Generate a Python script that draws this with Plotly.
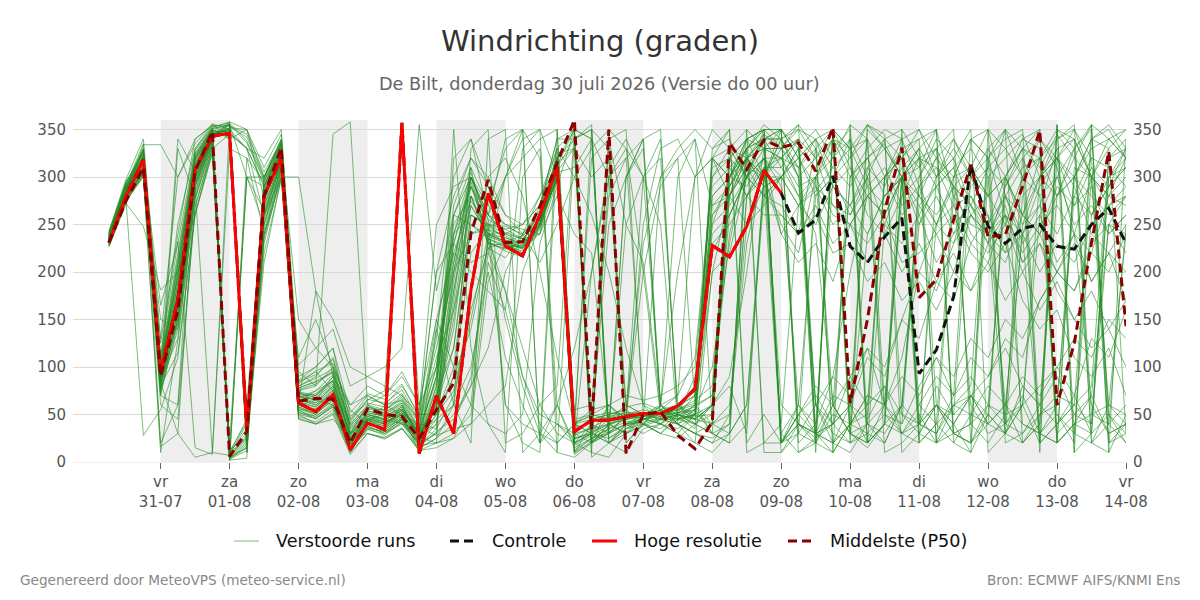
import plotly.graph_objects as go
import pandas as pd

# ---------------- data ----------------
times = pd.date_range("2026-07-30 06:00", periods=60, freq="6h")

hoge_resolutie = [231, 280, 318, 94, 171, 308, 343, 346, 34, 280,
                  320, 62, 53, 71, 13, 41, 34, 357, 9, 70,
                  30, 181, 283, 227, 217, 260, 311, 32, 44, 44,
                  48, 51, 51, 59, 77, 228, 216, 248, 307, 283]

controle = hoge_resolutie[:39] + [283, 241, 255, 301, 227, 210, 237, 257, 93, 118,
                                  174, 313, 248, 230, 246, 250, 227, 224, 250, 267, 230]

p50 = [231, 275, 310, 90, 160, 306, 348, 6, 32, 280,
       331, 64, 67, 66, 20, 56, 50, 48, 25, 55,
       83, 241, 297, 231, 232, 269, 315, 360, 34, 350,
       9, 50, 53, 28, 14, 42, 336, 308, 339, 331,
       336, 306, 352, 62, 150, 265, 331, 173, 192, 255,
       313, 237, 239, 290, 349, 60, 125, 231, 327, 143]

# ensemble members, part 1: 30-07 06u .. 03-08 18u (19 steps)
ens_first = [
    [236,288,315, 92,180,310,345, 350,25,290,330, 70,62,80,20, 45,40,55,30],
    [232,280,305, 78,150,290,340, 8,40,270,318, 58,50,68,15, 38,30,45,20],
    [240,290,320, 100,200,320,350, 355,300,250,310, 65,70,90,25, 50,45,40,20],
    [228,275,300, 88,130,280,335, 5,15,230,305, 90,100,120,30, 60,55,70,40],
    [238,283,330, 110,250,330,355, 340,350,300,340, 60,55,70,10, 40,35,60,25],
    [234,278,308, 70,160,300,340, 355,40,280,325, 55,45,60,18, 42,38,50,10],
    [242,295,325, 95,210,320,350, 20,300,300,335, 75,80,100,40, 60,50,40,35],
    [230,282,310, 60,45,270,330, 12,30,250,310, 50,40,45,25, 30,25,35,15],
    [236,287,318, 82,170,305,345, 350,20,285,330, 68,75,85,30, 45,50,60,22],
    [226,272,248, 181,200,260,330, 345,20,210,300, 300,180,90,60, 70,60,50,40],
    [238,290,322, 90,190,315,348, 2,300,290,335, 62,58,72,22, 48,42,50,28],
    [233,279,300, 16,30,5,10, 330,320,240,300, 60,65,90,35, 50,45,55,30],
    [240,292,335, 105,220,325,352, 358,10,300,340, 80,90,110,45, 70,60,80,50],
    [229,276,305, 75,140,285,338, 10,45,260,315, 48,42,55,12, 35,28,42,18],
    [235,284,334, 334,300,340,355, 345,330,320,350, 95,80,345,358, 60,70,95,60],
    [231,281,312, 85,155,295,342, 355,30,275,322, 66,60,75,20, 44,36,48,24],
    [237,286,320, 98,175,312,350, 340,60,290,328, 72,68,82,28, 52,48,58,32],
    [227,274,302, 80,115,260,325, 10,25,220,298, 110,150,100,55, 40,60,65,45],
    [239,289,327, 84,165,300,340, 352,350,310,345, 56,52,68,18, 44,40,52,36],
    [233,283,315, 165,230,328,352, 3,15,270,330, 64,75,92,32, 58,52,62,26],
    [235,285,316, 90,180,308,344, 356,35,280,324, 60,56,70,22, 46,40,50,26],
    [241,296,318, 130,300,335,356, 350,330,260,300, 102,120,140,80, 90,100,120,355],
    [230,277,306, 72,145,290,336, 8,300,265,318, 45,40,50,8, 30,24,35,12],
    [237,288,323, 96,195,318,348, 348,28,295,332, 78,85,95,38, 56,55,66,34],
    [232,281,309, 86,158,296,341, 6,22,262,316, 70,65,60,26, 42,34,46,22],
    [243,298,340, 125,240,340,354, 354,345,305,338, 85,95,75,42, 65,75,350,55],
    [228,275,303, 76,330,278,334, 4,18,240,308, 52,48,62,16, 36,32,44,16],
    [236,286,319, 94,185,312,347, 345,10,288,329, 74,64,78,30, 50,46,56,28],
    [234,282,313, 88,162,298,343, 358,350,278,321, 68,72,86,24, 48,44,54,30],
    [239,291,328, 100,205,322,351, 2,4,300,336, 82,96,104,48, 62,58,72,42],
    [235,286,317, 86,168,302,344, 352,45,282,326, 64,58,74,18, 46,42,52,26],
    [231,279,308, 79,150,288,10, 7,28,268,319, 56,50,66,14, 40,34,46,20],
    [238,289,324, 97,198,318,349, 346,330,292,333, 76,82,96,36, 54,50,62,32],
    [229,277,304, 10,128,276,333, 3,12,236,306, 50,46,58,12, 34,30,40,14],
    [236,287,318, 91,172,306,346, 350,18,284,327, 68,66,80,26, 50,44,54,28],
    [240,293,330, 20,60,330,353, 357,338,298,338, 84,92,108,44, 66,62,76,44],
    [233,282,311, 84,152,294,340, 5,20,262,317, 60,54,70,20, 44,38,48,22],
    [237,287,321, 95,188,314,347, 343,25,286,330, 72,70,84,28, 52,48,58,30],
    [230,276,304, 70,60,268,330, 9,35,244,310, 54,48,60,16, 38,30,42,18],
    [234,284,314, 88,166,300,343, 356,40,278,323, 66,62,76,24, 48,42,52,26],
    [239,290,326, 102,215,324,350, 1,320,295,334, 80,88,98,40, 58,54,68,36],
    [232,280,307, 82,148,290,339, 6,26,258,314, 58,52,64,18, 40,36,46,20],
    [236,285,316, 92,340,306,345, 349,32,283,325, 150,120,100,60, 80,70,90,60],
    [228,273,28, 55,110,262,326, 11,42,236,300, 46,40,52,10, 30,26,36,12],
    [241,294,329, 112,232,15,8, 353,342,300,337, 86,100,120,52, 72,66,82,48],
    [233,281,310, 83,30,292,341, 4,16,255,315, 62,180,150,100, 90,80,70,50],
    [237,288,322, 99,196,317,349, 347,330,290,331, 74,70,86,30, 54,48,56,30],
    [231,279,306, 150,140,284,337, 7,24,250,312, 52,46,58,14, 36,32,44,18],
    [235,286,318, 90,178,307,345, 351,28,281,326, 66,60,72,22, 46,40,50,24],
    [238,290,328, 104,208,322,351, 355,336,296,335, 78,84,94,38, 56,52,64,34],
]

# ensemble members, part 2: 04-08 00u .. 08-08 18u (20 steps)
ens_mid = [
    [60,150,270,240, 230,225,250,300, 40,50,45,60, 50,45,60,80, 240,260,300,320],
    [80,230,300,260, 240,230,270,330, 350,30,20,40, 45,55,50,40, 60,320,300,345],
    [30,350,120,40, 10,300,330,60, 20,30,340,250, 210,60,40,30, 20,30,60,300],
    [35,200,310,225, 215,240,260,320, 30,45,50,55, 40,60,70,110, 300,330,350,10],
    [50,100,250,235, 180,120,60,30, 20,200,310,340, 300,250,40,20, 200,280,320,330],
    [140,60,20,340, 350,10,30,60, 15,25,30,40, 50,50,45,60, 70,240,310,280],
    [90,250,280,260, 250,245,240,280, 240,220,40,30, 40,35,50,90, 250,300,340,330],
    [25,40,90,220, 300,350,20,40, 25,30,300,330, 200,50,60,40, 30,320,340,300],
    [70,120,260,250, 240,235,255,320, 340,10,5,30, 45,55,40,50, 270,290,330,355],
    [100,270,320,290, 260,240,210,250, 300,330,350,20, 40,30,50,70, 320,350,20,50],
    [55,180,290,240, 232,225,260,315, 330,40,20,35, 48,52,55,45, 220,260,300,280],
    [45,60,100,200, 110,60,20,350, 10,40,250,300, 340,45,40,30, 25,40,280,320],
    [120,200,240,245, 238,228,250,300, 45,50,60,70, 65,70,80,100, 290,310,330,350],
    [20,30,50,210, 160,330,350,10, 5,20,35,45, 50,58,300,340, 40,60,250,290],
    [150,100,60,40, 30,50,230,290, 350,20,60,40, 30,40,60,50, 330,340,300,320],
    [65,210,295,230, 225,228,258,312, 30,35,40,48, 52,48,58,70, 230,250,280,310],
    [140,240,260,250, 245,250,270,340, 340,350,30,40, 40,30,25,40, 60,90,200,330],
    [200,230,210,220, 180,90,40,20, 40,55,60,45, 250,330,340,300, 350,330,300,350],
    [28,35,40,190, 230,232,265,318, 12,25,35,42, 45,48,52,55, 100,230,320,340],
    [40,170,300,270, 330,350,20,60, 120,200,300,58, 62,55,48,35, 320,300,330,20],
    [58,140,280,235, 226,220,248,308, 28,36,46,52, 48,52,56,62, 260,290,320,300],
    [180,260,250,238, 60,20,10,325, 330,300,320,60, 50,40,30,20, 10,30,330,350],
    [15,25,60,240, 242,235,255,312, 350,5,20,30, 38,44,50,45, 40,50,230,310],
    [85,220,275,245, 300,340,350,302, 18,28,38,48, 200,290,320,340, 270,280,310,340],
    [50,75,160,225, 232,238,252,298, 42,48,52,50, 46,40,55,65, 80,300,320,290],
    [250,290,300,255, 245,235,240,330, 55,60,280,320, 340,350,45,55, 30,20,40,300],
    [32,45,80,235, 228,226,240,296, 8,22,32,40, 42,46,58,48, 50,280,340,350],
    [75,240,305,245, 150,80,30,10, 340,355,25,38, 44,52,60,75, 310,320,280,260],
    [62,190,300,232, 222,216,250,306, 36,42,48,52, 52,46,44,50, 200,220,300,340],
    [110,160,240,250, 248,240,265,322, 30,20,40,55, 230,300,330,350, 330,350,10,20],
    [20,320,340,290, 230,220,250,310, 20,40,30,50, 45,50,55,60, 280,300,330,340],
    [40,60,330,350, 20,30,60,80, 350,340,300,320, 60,40,30,50, 40,300,320,290],
    [90,240,290,250, 234,226,252,314, 20,10,350,330, 300,60,45,50, 250,270,300,330],
    [25,60,180,300, 320,280,200,110, 40,30,20,10, 35,40,50,45, 60,80,30,300],
    [70,200,280,230, 224,232,262,318, 350,340,40,30, 50,55,60,70, 300,320,340,350],
    [130,300,340,260, 240,250,280,330, 300,260,200,120, 60,50,40,30, 20,50,280,310],
    [45,90,220,245, 230,218,245,300, 25,30,40,45, 48,50,52,58, 70,260,300,320],
    [80,260,310,270, 250,238,258,320, 10,20,30,300, 330,60,50,40, 30,20,350,330],
    [30,50,80,120, 200,240,280,310, 340,350,330,20, 40,30,45,50, 60,330,320,300],
    [66,180,270,238, 230,224,254,310, 40,45,50,55, 300,340,50,45, 60,290,320,330],
    [150,220,200,180, 160,90,50,40, 30,350,20,40, 45,40,35,50, 280,300,290,320],
    [58,120,260,248, 236,230,250,305, 310,340,20,35, 40,45,50,55, 260,280,320,345],
    [100,230,290,260, 340,350,320,40, 20,30,60,45, 50,60,200,300, 320,330,300,280],
    [20,25,40,60, 80,200,250,300, 10,25,35,300, 340,60,40,30, 40,300,340,350],
    [200,280,320,300, 260,250,270,340, 350,20,30,50, 40,55,70,300, 320,280,250,270],
    [50,90,140,230, 228,222,250,300, 20,30,45,50, 55,50,45,40, 50,280,310,300],
    [90,260,300,255, 60,40,30,20, 40,320,340,350, 50,45,40,55, 320,300,330,340],
    [35,70,150,240, 236,228,252,306, 330,20,40,45, 50,52,48,60, 30,40,320,340],
    [60,160,280,240, 232,226,246,304, 24,32,40,250, 300,320,60,45, 60,310,280,300],
    [100,210,300,260, 300,320,340,350, 40,30,25,35, 45,300,320,60, 40,30,60,280],
]

# ensemble members, part 3: 09-08 00u .. 14-08 00u (21 steps)
ens_last = [
    [300,270,285,310, 290,320,335,300, 250,280,240,260, 230,290,320,280, 300,250,270,240, 260],
    [330,355,20,10, 40,70,60,110, 200,250,230,290, 310,330,300,320, 280,300,260,290, 310],
    [240,210,230,190, 250,280,260,300, 270,240,260,220, 200,230,170,140, 160,110,90,120, 70],
    [10,40,25,60, 30,15,40,350, 320,330,290,310, 280,300,260,320, 340,355,20,10, 50],
    [20,50,70,40, 90,60,80,30, 50,20,40,10, 350,330,345,300, 320,270,290,240, 260],
    [300,330,310,340, 320,355,345,10, 30,60,40,70, 50,30,60,80, 100,70,130,110, 160],
    [330,310,340,290, 270,300,250,230, 260,210,240,280, 250,300,330,310, 345,320,355,20, 30],
    [350,10,25,40, 60,45,80,50, 30,60,40,70, 90,130,110,170, 200,180,230,250, 220],
    [340,300,320,270, 250,280,260,300, 320,290,310,260, 240,270,210,230, 200,240,220,280, 300],
    [20,50,30,10, 40,355,330,340, 290,310,270,280, 240,260,220,250, 270,240,300,280, 320],
    [270,240,260,220, 230,190,210,170, 190,160,200,180, 230,210,260,240, 290,270,310,290, 330],
    [240,270,250,290, 270,310,290,330, 310,350,20,10, 50,30,80,60, 40,70,30,50, 20],
    [350,330,10,350, 30,20,60,40, 80,110,70,90, 60,40,70,30, 50,20,355,340, 320],
    [300,320,280,300, 260,290,270,310, 330,300,340,310, 280,300,250,270, 240,280,260,300, 310],
    [320,290,300,260, 250,230,260,210, 220,240,200,260, 280,250,300,340, 320,350,300,280, 270],
    [310,340,320,350, 330,355,340,320, 350,300,320,270, 250,280,230,260, 210,240,190,220, 170],
    [330,350,340,10, 355,20,40,30, 60,90,70,110, 90,120,80,60, 90,50,70,30, 40],
    [350,320,340,310, 330,290,310,270, 290,250,270,230, 260,220,240,200, 230,210,250,270, 290],
    [340,355,330,20, 10,40,30,60, 40,80,50,70, 40,60,20,40, 355,10,340,350, 320],
    [20,40,30,70, 60,110,90,150, 200,180,230,260, 240,280,260,300, 280,320,300,270, 280],
    [300,270,290,250, 270,240,280,300, 280,320,300,340, 320,350,330,10, 355,30,20,60, 40],
    [20,60,40,90, 70,120,100,150, 130,190,170,230, 210,260,240,290, 320,300,340,355, 330],
    [30,10,20,350, 330,340,300,320, 280,260,290,240, 220,250,200,230, 180,150,120,140, 100],
    [340,310,330,290, 310,280,300,260, 280,250,290,270, 310,290,330,320, 350,330,355,10, 340],
    [300,330,350,320, 355,340,10,20, 40,30,60,50, 80,60,90,70, 100,130,110,150, 130],
    [340,350,320,340, 300,320,280,300, 260,290,250,270, 230,260,210,240, 200,230,190,220, 250],
    [10,30,20,50, 40,70,60,90, 70,110,90,130, 110,150,130,170, 200,180,220,200, 240],
    [260,240,270,230, 250,210,240,200, 230,190,220,180, 210,170,200,160, 190,150,180,140, 170],
    [350,320,290,270, 260,300,340,50, 40,30,70,340, 320,260,40,30, 20,310,300,340, 350],
    [40,270,300,320, 340,300,50,30, 20,300,330,300, 280,350,20,40, 320,290,240,220, 200],
    [350,30,60,90, 200,280,300,320, 40,60,30,20, 300,320,340,330, 20,40,70,250, 280],
    [20,40,30,340, 330,20,40,60, 250,300,320,350, 10,30,60,260, 300,330,20,40, 60],
    [320,280,240,60, 30,20,40,300, 330,350,280,250, 240,220,300,20, 40,60,80,320, 330],
    [340,300,60,40, 20,350,330,300, 60,40,20,50, 40,30,250,300, 320,340,300,20, 40],
    [330,300,20,60, 90,120,60,300, 330,20,30,40, 320,340,350,30, 60,280,320,310, 290],
    [320,340,30,20, 40,60,300,340, 350,320,290,270, 240,30,20,50, 70,60,40,300, 320],
    [290,60,30,40, 300,320,340,350, 20,40,60,80, 330,300,260,240, 280,330,350,40, 20],
    [320,310,60,20, 40,50,300,330, 340,350,30,20, 60,280,310,320, 20,40,50,60, 240],
    [250,220,300,340, 20,30,50,40, 300,330,350,20, 40,60,240,270, 330,10,30,320, 340],
    [350,20,40,300, 320,340,60,30, 40,250,300,310, 350,20,30,60, 280,300,340,330, 30],
    [60,40,20,350, 310,260,240,280, 320,20,60,70, 40,300,330,350, 30,50,40,250, 240],
    [30,60,280,300, 340,20,40,300, 320,310,290,60, 30,40,320,340, 310,240,60,30, 40],
    [260,240,330,350, 40,30,20,60, 290,320,340,300, 260,60,40,30, 20,300,330,340, 320],
    [20,50,80,60, 300,330,350,340, 30,20,280,300, 320,40,60,20, 350,340,300,60, 50],
    [300,40,30,20, 60,310,330,300, 40,60,50,300, 330,350,300,280, 50,30,260,290, 310],
    [330,340,60,30, 20,40,300,320, 340,60,30,20, 50,300,340,350, 20,40,30,300, 330],
    [310,280,300,60, 30,40,60,280, 300,340,320,40, 20,50,60,300, 330,340,50,40, 250],
    [20,30,300,330, 350,40,20,60, 270,290,310,330, 300,40,30,50, 60,300,280,260, 280],
    [320,340,30,40, 60,20,250,300, 20,40,300,340, 350,280,240,20, 40,60,300,330, 350],
    [300,320,340,350, 30,240,280,300, 310,330,30,40, 60,50,280,300, 340,350,320,50, 30],
]

tick_dates = pd.date_range("2026-07-31", "2026-08-14", freq="D")
day_names = ["vr", "za", "zo", "ma", "di", "wo", "do", "vr",
             "za", "zo", "ma", "di", "wo", "do", "vr"]
tick_text = [f"{d}<br>{t.strftime('%d-%m')}" for d, t in zip(day_names, tick_dates)]
y_ticks = [0, 50, 100, 150, 200, 250, 300, 350]
shade_starts = ["2026-07-31", "2026-08-02", "2026-08-04", "2026-08-06",
                "2026-08-08", "2026-08-10", "2026-08-12"]

ensemble = [a + b + c for a, b, c in zip(ens_first, ens_mid, ens_last)]
for m in ensemble:
    assert len(m) == 60, len(m)

# ---------------- styles ----------------
ENS_COLOR = "rgba(34,139,34,0.58)"
CTRL_COLOR = "#111111"
HRES_COLOR = "#ff0000"
P50_COLOR = "#8b0000"
DASH = "9px,5px"

# plot-area geometry (pixels)
L, R, T, B = 73, 74, 120, 138
PW, PH = 1200 - L - R, 600 - T - B


def px_x(px):
    return (px - L) / PW


def px_y(py):
    return (600 - B - py) / PH


# ---------------- figure ----------------
fig = go.Figure()

for member in ensemble:
    fig.add_trace(go.Scatter(
        x=times, y=member, mode="lines",
        line=dict(color=ENS_COLOR, width=1),
        name="Verstoorde runs", showlegend=False, hoverinfo="skip"))

fig.add_trace(go.Scatter(
    x=times[:len(controle)], y=controle, mode="lines",
    line=dict(color=CTRL_COLOR, width=3, dash=DASH),
    name="Controle", showlegend=False))

fig.add_trace(go.Scatter(
    x=times[:len(hoge_resolutie)], y=hoge_resolutie, mode="lines",
    line=dict(color=HRES_COLOR, width=3),
    name="Hoge resolutie", showlegend=False))

fig.add_trace(go.Scatter(
    x=times, y=p50, mode="lines",
    line=dict(color=P50_COLOR, width=3, dash=DASH),
    name="Middelste (P50)", showlegend=False))

# dummy trace to activate the right axis
fig.add_trace(go.Scatter(x=[times[0]], y=[0], yaxis="y2", mode="markers",
                         marker=dict(opacity=0), showlegend=False, hoverinfo="skip"))

for s in shade_starts:
    start = pd.Timestamp(s)
    fig.add_shape(type="rect", xref="x", yref="y",
                  x0=start, x1=start + pd.Timedelta(days=1), y0=0, y1=360,
                  fillcolor="#eeeeee", line=dict(width=0), layer="below")

# legend (drawn manually for exact spacing)
legend_items = [
    ("Verstoorde runs", ENS_COLOR, 1, "solid", 234),
    ("Controle", CTRL_COLOR, 3, DASH, 450),
    ("Hoge resolutie", HRES_COLOR, 3, "solid", 592),
    ("Middelste (P50)", P50_COLOR, 3, DASH, 788),
]
LEG_Y = 541
annotations = []
for label, color, width, dash, x0 in legend_items:
    fig.add_shape(type="line", xref="paper", yref="paper",
                  x0=px_x(x0), x1=px_x(x0 + 25), y0=px_y(LEG_Y), y1=px_y(LEG_Y),
                  line=dict(color=color, width=width, dash=dash))
    annotations.append(dict(text=label, xref="paper", yref="paper",
                            x=px_x(x0 + 40), y=px_y(LEG_Y),
                            xanchor="left", yanchor="middle", showarrow=False,
                            font=dict(family="DejaVu Sans", size=17.6, color="#111111")))

annotations += [
    dict(text="De Bilt, donderdag 30 juli 2026 (Versie do 00 uur)",
         xref="paper", yref="paper", x=0.5, y=px_y(84),
         xanchor="center", yanchor="middle", showarrow=False,
         font=dict(family="DejaVu Sans", size=17.7, color="#666666")),
    dict(text="Gegenereerd door MeteoVPS (meteo-service.nl)",
         xref="paper", yref="paper", x=px_x(18), y=px_y(580),
         xanchor="left", yanchor="middle", showarrow=False,
         font=dict(family="DejaVu Sans", size=13.6, color="#888888")),
    dict(text="Bron: ECMWF AIFS/KNMI Ens",
         xref="paper", yref="paper", x=px_x(1182), y=px_y(580),
         xanchor="right", yanchor="middle", showarrow=False,
         font=dict(family="DejaVu Sans", size=13.6, color="#888888")),
]

tickfont = dict(family="DejaVu Sans", size=15, color="#555555")

fig.update_layout(
    width=1200, height=600,
    margin=dict(l=L, r=R, t=T, b=B),
    paper_bgcolor="white", plot_bgcolor="white",
    font=dict(family="DejaVu Sans", color="#555555"),
    showlegend=False,
    title=dict(text="Windrichting (graden)", x=0.5, xanchor="center",
               y=1 - 41 / 600, yanchor="middle",
               font=dict(family="DejaVu Sans", size=29, color="#333333")),
    xaxis=dict(type="date", range=["2026-07-29 17:30", "2026-08-14 00:00"],
               tickvals=list(tick_dates), ticktext=tick_text,
               ticks="outside", ticklen=6, tickcolor="#666666", tickwidth=1,
               showgrid=False, showline=False, zeroline=False, tickfont=tickfont),
    yaxis=dict(range=[0, 360], tickvals=y_ticks, showgrid=True, gridcolor="#d9d9d9",
               zeroline=True, zerolinecolor="#f0f0f0", zerolinewidth=1,
               showline=False, tickfont=tickfont, ticklabelstandoff=6),
    yaxis2=dict(range=[0, 360], tickvals=y_ticks, overlaying="y", side="right",
                showgrid=False, zeroline=False, showline=False, tickfont=tickfont,
                ticklabelstandoff=6),
    annotations=annotations,
)

fig.write_html("out.html")
